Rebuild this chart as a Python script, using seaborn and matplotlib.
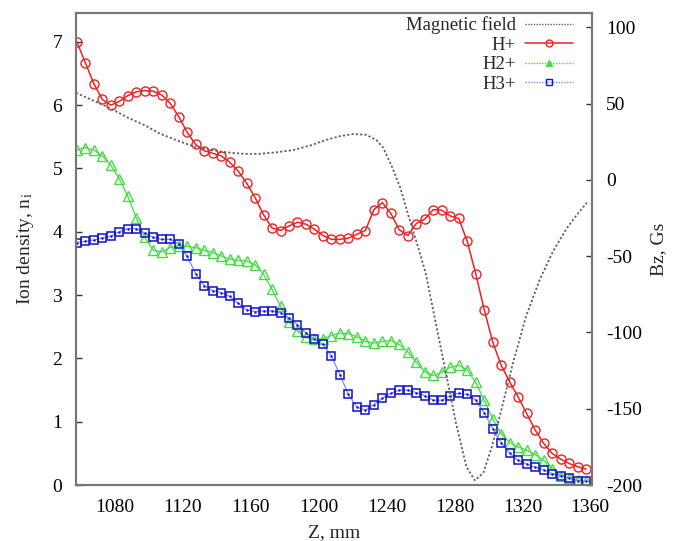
import numpy as np
import pandas as pd
import matplotlib
matplotlib.use("Agg")
import matplotlib.pyplot as plt
from matplotlib.lines import Line2D
import seaborn as sns

# --- data ---
z = [1057.5 + 5 * i for i in range(61)]

h1 = [7.00, 6.67, 6.34, 6.09, 6.00, 6.06, 6.15, 6.21, 6.23, 6.22,
      6.16, 6.03, 5.82, 5.57, 5.38, 5.28, 5.24, 5.20, 5.10, 4.96,
      4.77, 4.54, 4.27, 4.06, 4.02, 4.09, 4.15, 4.12, 4.04, 3.94,
      3.88, 3.88, 3.90, 3.96, 4.02, 4.35, 4.46, 4.29, 4.03, 3.94,
      4.13, 4.20, 4.35, 4.34, 4.25, 4.21, 3.85, 3.34, 2.77, 2.26,
      1.89, 1.63, 1.39, 1.13, 0.87, 0.66, 0.50, 0.41, 0.34, 0.29,
      0.25]

h2 = [5.29, 5.33, 5.29, 5.20, 5.05, 4.84, 4.56, 4.22, 3.91, 3.71,
      3.68, 3.75, 3.78, 3.77, 3.75, 3.71, 3.67, 3.62, 3.57, 3.55,
      3.54, 3.48, 3.33, 3.09, 2.82, 2.58, 2.43, 2.33, 2.30, 2.31,
      2.36, 2.40, 2.39, 2.34, 2.27, 2.24, 2.27, 2.28, 2.22, 2.10,
      1.94, 1.79, 1.73, 1.78, 1.86, 1.89, 1.82, 1.62, 1.34, 1.04,
      0.81, 0.67, 0.60, 0.55, 0.48, 0.39, 0.26, 0.15, 0.11, 0.08,
      0.06]

h3 = [3.83, 3.85, 3.87, 3.90, 3.93, 4.00, 4.05, 4.05, 3.98, 3.91,
      3.88, 3.88, 3.81, 3.61, 3.34, 3.15, 3.07, 3.04, 2.98, 2.87,
      2.77, 2.74, 2.75, 2.75, 2.72, 2.64, 2.53, 2.40, 2.30, 2.22,
      2.04, 1.74, 1.43, 1.23, 1.18, 1.27, 1.37, 1.45, 1.50, 1.50,
      1.46, 1.41, 1.34, 1.34, 1.41, 1.45, 1.43, 1.34, 1.14, 0.89,
      0.67, 0.50, 0.39, 0.33, 0.28, 0.24, 0.18, 0.15, 0.11, 0.07,
      0.06]

# magnetic field Bz, Gs
zb = [1057, 1067, 1077, 1087, 1097, 1106, 1116, 1126, 1136, 1146,
      1156, 1165, 1175, 1185, 1195, 1204, 1212, 1220, 1228, 1234,
      1238, 1243, 1248, 1253, 1258, 1263, 1269, 1275, 1281, 1287,
      1292, 1297, 1302, 1308, 1314, 1322, 1330, 1338, 1346, 1352,
      1358]
bz = [57, 52, 47, 41, 36, 30.5, 26, 22, 19.5, 18,
      17, 17, 18, 19.5, 22.5, 26, 28.5, 30, 29.5, 26,
      21, 9, -5, -24, -42, -61, -94, -127, -160, -188,
      -197, -192, -175, -149, -122, -90, -66, -47, -32, -23,
      -15]

xticks = [1080, 1120, 1160, 1200, 1240, 1280, 1320, 1360]

sns.set_style("white")
plt.rcParams['font.family'] = ['Liberation Serif', 'DejaVu Serif']
plt.rcParams['mathtext.fontset'] = 'stix'
plt.rcParams['axes.unicode_minus'] = False

fig = plt.figure(figsize=(6.75, 5.41), dpi=100)
ax = fig.add_axes([0.1126, 0.1035, 0.7644, 0.873])
ax2 = ax.twinx()

red = '#ee2222'
green = '#44dd44'
blue_m = '#1111cc'
blue_l = '#8888ee'
gray = '#606060'

sns.lineplot(x=zb, y=bz, ax=ax2, color=gray, linestyle=(0, (1.2, 1.2)), linewidth=1.3, sort=False)

sns.lineplot(x=z, y=h1, ax=ax, color=red, linewidth=1.1, marker='o', markersize=6.5,
             markerfacecolor='none', markeredgecolor=red, markeredgewidth=1.0, sort=False)
sns.lineplot(x=z, y=h2, ax=ax, color=green, linewidth=0.9, marker='^', markersize=6.5,
             markerfacecolor='none', markeredgecolor=green, markeredgewidth=1.0, sort=False)
sns.lineplot(x=z, y=h3, ax=ax, color=blue_l, linewidth=0.9, marker='s', markersize=6,
             markerfacecolor='none', markeredgecolor=blue_m, markeredgewidth=1.1, sort=False)
ax.plot(z, h3, linestyle='none', marker='.', markersize=1.5, color=blue_m)

ax.set_xlim(1057, 1361)
ax.set_ylim(0, 7.46)
ax2.set_ylim(-200, 109.5)
ax.set_xticks(xticks)
ax.set_yticks(range(0, 8))
ax2.set_yticks([-200, -150, -100, -50, 0, 50, 100])

ax.set_xlabel('Z, mm', fontsize=14, labelpad=6)
ax.set_ylabel('Ion density, n$_\\mathregular{i}$', fontsize=14, labelpad=12)
ax2.set_ylabel('Bz, Gs', fontsize=14, labelpad=6, rotation=90)

for a in (ax, ax2):
    a.tick_params(direction='in', length=4, width=1, colors='#333333', labelsize=14,
                  labelcolor='black', pad=10)
    for s in a.spines.values():
        s.set_color('#777777')
        s.set_linewidth(1.5)
ax.tick_params(axis='y', right=False)
ax2.tick_params(axis='y', left=False)

handles = [
    Line2D([], [], color=gray, linestyle=(0, (1, 1)), linewidth=1.0),
    Line2D([], [], color=red, linewidth=1.1, marker='o', markersize=5,
           markerfacecolor='none', markeredgecolor=red),
    Line2D([], [], color=green, linestyle=(0, (1, 1)), linewidth=1.0, marker='^', markersize=5,
           markerfacecolor=green, markeredgecolor=green),
    Line2D([], [], color=blue_l, linestyle=(0, (1, 1)), linewidth=1.0, marker='s', markersize=5,
           markerfacecolor='none', markeredgecolor=blue_m),
]
labels = ['Magnetic field', 'H+', 'H2+', 'H3+']
ax.legend(handles, labels, loc='upper right', frameon=False, markerfirst=False,
          fontsize=13.5, handlelength=2.56, labelspacing=0.13, handletextpad=0.48,
          borderaxespad=0.2, bbox_to_anchor=(0.985, 1.016))

fig.savefig('out.png', dpi=100)
